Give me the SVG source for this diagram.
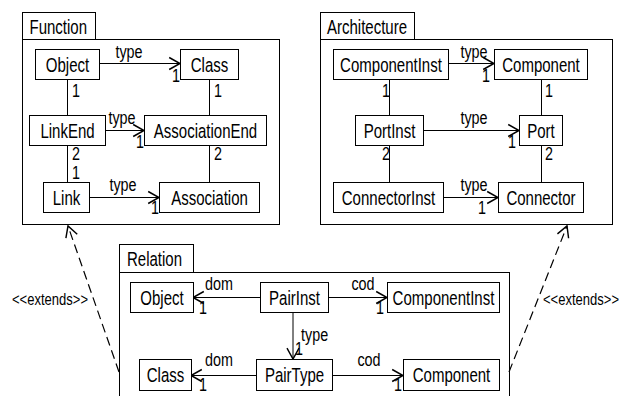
<svg xmlns="http://www.w3.org/2000/svg" width="623" height="396" viewBox="0 0 623 396">
<defs>
<style>
rect{fill:#fff;stroke:#000;stroke-width:1}
.pkg{fill:#fff;stroke:#000;stroke-width:1}
text{font-family:"Liberation Sans",Arial,sans-serif;font-size:17.5px;fill:#000}
.n{text-anchor:middle;font-size:19.5px}
.p{font-size:19.5px}
.c{text-anchor:middle}
.ext{font-size:16.5px}
.ln{stroke:#000;stroke-width:1;fill:none}
.ar{stroke:#000;stroke-width:1;fill:none;marker-end:url(#open)}
.dash{stroke:#000;stroke-width:1.2;fill:none;stroke-dasharray:9,5;marker-end:url(#open)}
</style>
<marker id="open" markerUnits="userSpaceOnUse" markerWidth="12" markerHeight="12" refX="9" refY="5" orient="auto" viewBox="0 0 10 10" overflow="visible">
<path d="M0,0 L9,5 L0,10" fill="none" stroke="#000" stroke-width="1.2"/>
</marker>
</defs>

<g id="pkg-function">
<rect class="pkg" x="22.5" y="12.5" width="73" height="27"/>
<rect class="pkg" x="22.5" y="39.5" width="257" height="185"/>
<text class="p" transform="translate(29.5,33.5) scale(0.77,1)">Function</text>
</g>
<g id="pkg-architecture">
<rect class="pkg" x="320.5" y="12.5" width="94" height="27"/>
<rect class="pkg" x="320.5" y="39.5" width="292" height="185"/>
<text class="p" transform="translate(327,33.5) scale(0.77,1)">Architecture</text>
</g>
<g id="pkg-relation">
<rect class="pkg" x="119.5" y="244.5" width="74" height="28"/>
<rect class="pkg" x="119.5" y="272.5" width="390" height="140"/>
<text class="p" transform="translate(127,266) scale(0.77,1)">Relation</text>
</g>

<g id="connectors">
<line class="ln" x1="67.5" y1="79" x2="67.5" y2="115"/>
<line class="ln" x1="67.5" y1="145" x2="67.5" y2="182"/>
<line class="ln" x1="209.5" y1="79" x2="209.5" y2="115"/>
<line class="ln" x1="209.5" y1="145" x2="209.5" y2="182"/>
<line class="ar" x1="99" y1="63.5" x2="180" y2="63.5"/>
<line class="ar" x1="105" y1="130.5" x2="144" y2="130.5"/>
<line class="ar" x1="89" y1="197.5" x2="159" y2="197.5"/>

<line class="ln" x1="389.5" y1="79" x2="389.5" y2="115"/>
<line class="ln" x1="389.5" y1="145" x2="389.5" y2="182"/>
<line class="ln" x1="541.5" y1="79" x2="541.5" y2="115"/>
<line class="ln" x1="541.5" y1="145" x2="541.5" y2="182"/>
<line class="ar" x1="448" y1="63.5" x2="494" y2="63.5"/>
<line class="ar" x1="423" y1="130.5" x2="519" y2="130.5"/>
<line class="ar" x1="443" y1="197.5" x2="498" y2="197.5"/>

<line class="ar" x1="260" y1="297.5" x2="193" y2="297.5"/>
<line class="ar" x1="328" y1="297.5" x2="387" y2="297.5"/>
<line class="ar" x1="293" y1="312" x2="293" y2="359"/>
<line class="ar" x1="256" y1="375.5" x2="191" y2="375.5"/>
<line class="ar" x1="332" y1="375.5" x2="403" y2="375.5"/>

<line class="dash" x1="119" y1="372" x2="68" y2="226"/>
<line class="dash" x1="509" y1="372" x2="567" y2="226"/>

<text transform="translate(129,58) scale(0.82,1)" class="c">type</text>
<text transform="translate(172,82) scale(0.82,1)">1</text>
<text transform="translate(122,124) scale(0.82,1)" class="c">type</text>
<text transform="translate(136,148) scale(0.82,1)">1</text>
<text transform="translate(123,191) scale(0.82,1)" class="c">type</text>
<text transform="translate(151,214) scale(0.82,1)">1</text>
<text transform="translate(72,97) scale(0.82,1)">1</text>
<text transform="translate(214,97) scale(0.82,1)">1</text>
<text transform="translate(72,160) scale(0.82,1)">2</text>
<text transform="translate(72,179) scale(0.82,1)">1</text>
<text transform="translate(214,160) scale(0.82,1)">2</text>

<text transform="translate(474,58) scale(0.82,1)" class="c">type</text>
<text transform="translate(482,82) scale(0.82,1)">1</text>
<text transform="translate(474,124) scale(0.82,1)" class="c">type</text>
<text transform="translate(508,148) scale(0.82,1)">1</text>
<text transform="translate(474,191) scale(0.82,1)" class="c">type</text>
<text transform="translate(478,214) scale(0.82,1)">1</text>
<text transform="translate(382,97) scale(0.82,1)">1</text>
<text transform="translate(545,97) scale(0.82,1)">1</text>
<text transform="translate(382,160) scale(0.82,1)">2</text>
<text transform="translate(545,160) scale(0.82,1)">2</text>

<text transform="translate(219,290) scale(0.82,1)" class="c">dom</text>
<text transform="translate(199,314) scale(0.82,1)">1</text>
<text transform="translate(363,290) scale(0.82,1)" class="c">cod</text>
<text transform="translate(376,314) scale(0.82,1)">1</text>
<text transform="translate(301,341) scale(0.82,1)">type</text>
<text transform="translate(295,355) scale(0.82,1)">1</text>
<text transform="translate(219,366) scale(0.82,1)" class="c">dom</text>
<text transform="translate(199,391) scale(0.82,1)">1</text>
<text transform="translate(369,366) scale(0.82,1)" class="c">cod</text>
<text transform="translate(394,391) scale(0.82,1)">1</text>

<text transform="translate(12,305) scale(0.79,1)" class="ext">&lt;&lt;extends&gt;&gt;</text>
<text transform="translate(543,305) scale(0.79,1)" class="ext">&lt;&lt;extends&gt;&gt;</text>
</g>

<g id="n-object"><rect x="35.5" y="49.5" width="64" height="30"/><text transform="translate(67.5,72) scale(0.77,1)" class="n">Object</text></g>
<g id="n-class"><rect x="180.5" y="49.5" width="58" height="30"/><text transform="translate(209.5,72) scale(0.77,1)" class="n">Class</text></g>
<g id="n-linkend"><rect x="29.5" y="115.5" width="76" height="30"/><text transform="translate(67.5,138) scale(0.77,1)" class="n">LinkEnd</text></g>
<g id="n-associationend"><rect x="144.5" y="115.5" width="122" height="30"/><text transform="translate(205.5,138) scale(0.77,1)" class="n">AssociationEnd</text></g>
<g id="n-link"><rect x="43.5" y="182.5" width="46" height="30"/><text transform="translate(66.5,205) scale(0.77,1)" class="n">Link</text></g>
<g id="n-association"><rect x="159.5" y="182.5" width="100" height="30"/><text transform="translate(209.5,205) scale(0.77,1)" class="n">Association</text></g>

<g id="n-componentinst"><rect x="333.5" y="49.5" width="115" height="30"/><text transform="translate(391,72) scale(0.77,1)" class="n">ComponentInst</text></g>
<g id="n-component"><rect x="494.5" y="49.5" width="93" height="30"/><text transform="translate(541,72) scale(0.77,1)" class="n">Component</text></g>
<g id="n-portinst"><rect x="355.5" y="115.5" width="68" height="30"/><text transform="translate(389.5,138) scale(0.77,1)" class="n">PortInst</text></g>
<g id="n-port"><rect x="519.5" y="115.5" width="43" height="30"/><text transform="translate(541,138) scale(0.77,1)" class="n">Port</text></g>
<g id="n-connectorinst"><rect x="333.5" y="182.5" width="110" height="30"/><text transform="translate(388.5,205) scale(0.77,1)" class="n">ConnectorInst</text></g>
<g id="n-connector"><rect x="498.5" y="182.5" width="85" height="30"/><text transform="translate(541,205) scale(0.77,1)" class="n">Connector</text></g>

<g id="n-rel-object"><rect x="130.5" y="282.5" width="63" height="30"/><text transform="translate(162,305) scale(0.77,1)" class="n">Object</text></g>
<g id="n-pairinst"><rect x="260.5" y="282.5" width="68" height="30"/><text transform="translate(294.5,305) scale(0.77,1)" class="n">PairInst</text></g>
<g id="n-rel-componentinst"><rect x="387.5" y="282.5" width="112" height="30"/><text transform="translate(443.5,305) scale(0.77,1)" class="n">ComponentInst</text></g>
<g id="n-rel-class"><rect x="139.5" y="359.5" width="52" height="31"/><text transform="translate(165.5,382) scale(0.77,1)" class="n">Class</text></g>
<g id="n-pairtype"><rect x="256.5" y="359.5" width="76" height="31"/><text transform="translate(294.5,382) scale(0.77,1)" class="n">PairType</text></g>
<g id="n-rel-component"><rect x="403.5" y="359.5" width="96" height="31"/><text transform="translate(451.5,382) scale(0.77,1)" class="n">Component</text></g>
</svg>
